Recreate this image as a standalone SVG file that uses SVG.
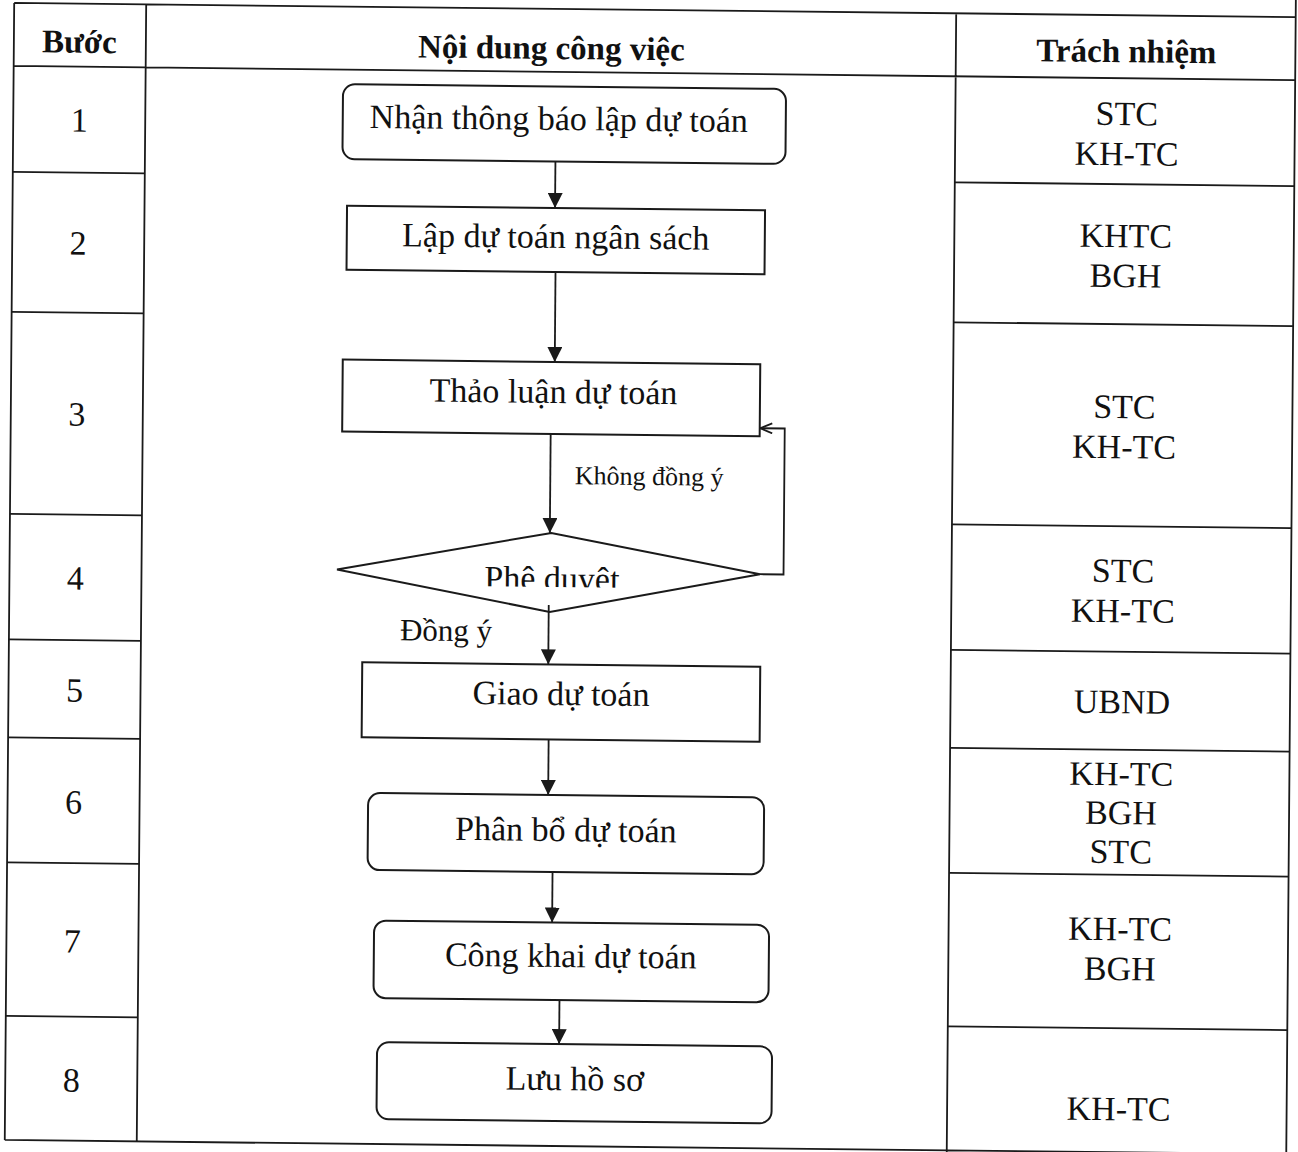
<svg xmlns="http://www.w3.org/2000/svg" width="1298" height="1152" viewBox="0 0 1298 1152">
<style>
.ln{stroke:#1a1a1a;stroke-width:1.8;fill:none}
.box{fill:#fff;stroke:#1a1a1a;stroke-width:2}
.t{font-family:"Liberation Serif","Times New Roman",serif;font-size:34px;fill:#111;text-anchor:middle}
.h{font-weight:bold;font-size:33px}
.lbl{font-family:"Liberation Serif","Times New Roman",serif;fill:#111}
.cn{stroke:#1a1a1a;stroke-width:1.8;fill:none}
</style>
<defs>
<marker id="arr" viewBox="0 0 15 15" refX="15" refY="7.5" markerWidth="15" markerHeight="15" orient="auto" markerUnits="userSpaceOnUse"><path d="M0,0 L15,7.5 L0,15 z" fill="#1a1a1a"/></marker>
<marker id="open" viewBox="0 0 14 12" refX="13" refY="6" markerWidth="14" markerHeight="12" orient="auto" markerUnits="userSpaceOnUse"><path d="M1,1 L13,6 L1,11" fill="none" stroke="#1a1a1a" stroke-width="1.8"/></marker>
<clipPath id="clipPD"><rect x="440" y="540" width="230" height="48"/></clipPath>
</defs>
<rect width="1298" height="1152" fill="#fff"/>
<g transform="matrix(1,0.011,-0.0083,1,4.78,-7.14)">
<g id="table">
<path class="ln" d="M9.5,10 H1291 M9.5,10 V1147 M141.5,10 V1147 M951.5,10 V1160 M1291,-12 V1165 M9.5,73 H1291 M9.5,1147 H1291"/>
<path class="ln" d="M9.5,179 H141.5 M9.5,319 H141.5 M9.5,521 H141.5 M9.5,646.5 H141.5 M9.5,744.5 H141.5 M9.5,869.5 H141.5 M9.5,1023 H141.5"/>
<path class="ln" d="M951.5,179 H1291 M951.5,319 H1291 M951.5,521 H1291 M951.5,646.5 H1291 M951.5,744.5 H1291 M951.5,869.5 H1291 M951.5,1023 H1291"/>
<text class="t h" x="75" y="59">Bước</text>
<text class="t h" x="547" y="60">Nội dung công việc</text>
<text class="t h" x="1122" y="57">Trách nhiệm</text>
<text class="t" x="75.5" y="138">1</text>
<text class="t" x="75.5" y="261">2</text>
<text class="t" x="75.5" y="432">3</text>
<text class="t" x="75.5" y="596">4</text>
<text class="t" x="75.5" y="708">5</text>
<text class="t" x="75.5" y="820">6</text>
<text class="t" x="75.5" y="959">7</text>
<text class="t" x="75.5" y="1098">8</text>
<text class="t" x="1123" y="120">STC</text>
<text class="t" x="1123" y="160">KH-TC</text>
<text class="t" x="1123" y="242">KHTC</text>
<text class="t" x="1123" y="282">BGH</text>
<text class="t" x="1123" y="413">STC</text>
<text class="t" x="1123" y="453">KH-TC</text>
<text class="t" x="1123" y="577">STC</text>
<text class="t" x="1123" y="617">KH-TC</text>
<text class="t" x="1123" y="708">UBND</text>
<text class="t" x="1123" y="780">KH-TC</text>
<text class="t" x="1123" y="819">BGH</text>
<text class="t" x="1123" y="858">STC</text>
<text class="t" x="1123" y="935">KH-TC</text>
<text class="t" x="1123" y="975">BGH</text>
<text class="t" x="1123" y="1115">KH-TC</text>
</g>
<g id="connectors">
<path class="cn" d="M552,162.5 V209" marker-end="url(#arr)"/>
<path class="cn" d="M553,273 V363" marker-end="url(#arr)"/>
<path class="cn" d="M549.5,435 V534" marker-end="url(#arr)"/>
<path class="cn" d="M760,573 H783.5 V427 H759" marker-end="url(#open)"/>
<path class="cn" d="M549,606 V665.5" marker-end="url(#arr)"/>
<path class="cn" d="M550,740.5 V796" marker-end="url(#arr)"/>
<path class="cn" d="M555,873 V923.5" marker-end="url(#arr)"/>
<path class="cn" d="M563,1001 V1045" marker-end="url(#arr)"/>
<text class="lbl" x="574" y="485" font-size="26">Không đồng ý</text>
<text class="lbl" x="400.5" y="643" font-size="31">Đồng ý</text>
</g>
<g id="n1"><rect class="box" x="339" y="87.5" width="443" height="75" rx="12"/><text class="t" x="555" y="131">Nhận thông báo lập dự toán</text></g>
<g id="n2"><rect class="box" x="344" y="209" width="418" height="64"/><text class="t" x="553" y="249">Lập dự toán ngân sách</text></g>
<g id="n3"><rect class="box" x="341" y="363" width="417.5" height="72"/><text class="t" x="552" y="404">Thảo luận dự toán</text></g>
<g id="n4"><polygon class="box" points="337,573 551,534 760,573 550,613"/><text class="t" x="552" y="591" clip-path="url(#clipPD)">Phê duyệt</text></g>
<path class="cn" d="M549,606 V613"/>
<g id="n5"><rect class="box" x="363" y="665.5" width="398" height="75"/><text class="t" x="562" y="706">Giao dự toán</text></g>
<g id="n6"><rect class="box" x="370" y="796" width="396" height="77" rx="12"/><text class="t" x="568" y="842">Phân bổ dự toán</text></g>
<g id="n7"><rect class="box" x="377" y="923.5" width="395" height="77.5" rx="12"/><text class="t" x="574" y="968">Công khai dự toán</text></g>
<g id="n8"><rect class="box" x="381" y="1045" width="395" height="77" rx="12"/><text class="t" x="579" y="1091">Lưu hồ sơ</text></g>
</g>
</svg>
